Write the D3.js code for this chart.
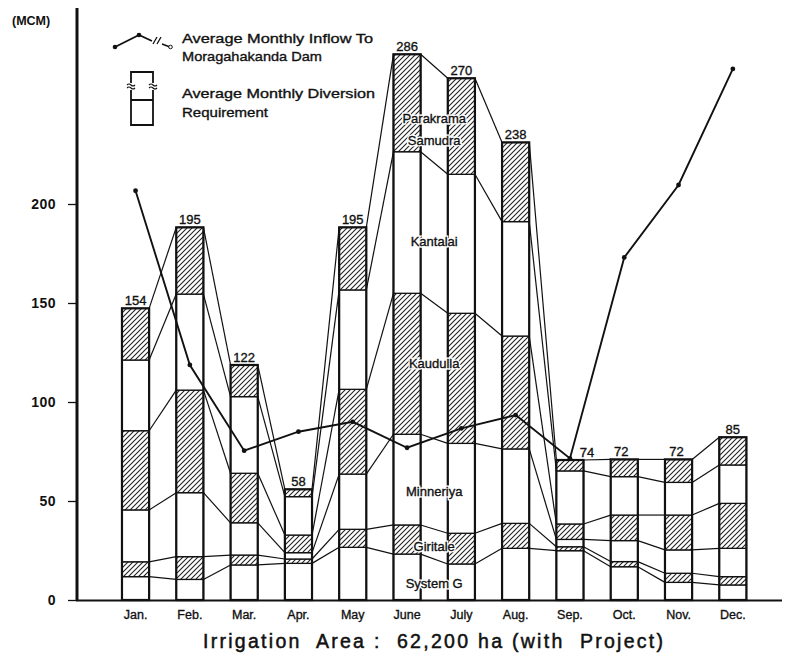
<!DOCTYPE html>
<html>
<head>
<meta charset="utf-8">
<script src="https://cdn.jsdelivr.net/npm/d3@7/dist/d3.min.js"></script>
<style>
  html, body { margin: 0; padding: 0; background: #fff; }
  svg { display: block; }
  text { font-family: "Liberation Sans", "DejaVu Sans", sans-serif; fill: #111; }
  .heavy { stroke: #111; stroke-width: 0.35px; }
</style>
</head>
<body>
<svg id="chart" width="786" height="672"></svg>
<script>
// ---------------- DATA ----------------
const months = ["Jan.", "Feb.", "Mar.", "Apr.", "May", "June", "July", "Aug.", "Sep.", "Oct.", "Nov.", "Dec."];
const systemG   = [11.8, 10.4, 17.7, 18.5, 26.6, 23.2, 18.2, 26.1, 24.9, 16.8, 8.9, 7.6];
const giritale  = [7.5, 11.5, 5.0, 2.2, 9.1, 14.7, 15.5, 12.6, 2.0, 2.6, 4.6, 4.2];
const minneriya = [26.2, 32.3, 16.3, 3.2, 27.9, 45.8, 45.4, 37.6, 3.7, 10.6, 11.8, 14.3];
const kaudulla  = [40.0, 51.8, 25.0, 8.9, 42.8, 71.2, 65.7, 57.0, 7.8, 12.9, 17.6, 22.7];
const kantalai  = [35.7, 48.5, 38.7, 19.4, 50.2, 71.5, 70.2, 57.8, 26.8, 19.4, 16.5, 19.4];
const parakrama = [26.1, 33.7, 16.0, 3.7, 31.6, 49.2, 48.5, 40.0, 5.5, 8.7, 11.6, 14.0];
const totalLabels = [154, 195, 122, 58, 195, 286, 270, 238, 74, 72, 72, 85];
const inflow = [206.7, 118.7, 75.4, 85.0, 90.0, 76.9, 86.7, 93.4, 71.5, 173.0, 209.6, 268.2];
const yTicks = [0, 50, 100, 150, 200];
const seriesNames = ["System G", "Giritale", "Minneriya", "Kaudulla", "Kantalai", "Parakrama Samudra"];
const seriesHatched = [false, true, false, true, false, true];
// label anchor values (MCM) for the names written inside the June/July bars
const nameLabelLines = [["System G"], ["Giritale"], ["Minneriya"], ["Kaudulla"], ["Kantalai"], ["Parakrama", "Samudra"]];
const nameLabelValues = [8.4, 27.0, 54.7, 119.7, 180.9, 243.3];

// ---------------- SETUP ----------------
const svg = d3.select("#chart");
const defs = svg.append("defs");
const pat = defs.append("pattern")
  .attr("id", "hatch").attr("patternUnits", "userSpaceOnUse")
  .attr("width", 5).attr("height", 5);
pat.append("rect").attr("width", 5).attr("height", 5).attr("fill", "#fff");
pat.append("path").attr("d", "M-1,1 l2,-2 M0,5 l5,-5 M4,6 l2,-2")
  .attr("stroke", "#222").attr("stroke-width", 1.1);

const x = d3.scaleBand().domain(months).range([108.4, 760]).paddingInner(0.5).paddingOuter(0.25);
const y = d3.scaleLinear().domain([0, 200]).range([600, 204]);
const bw = x.bandwidth();

const seriesData = [systemG, giritale, minneriya, kaudulla, kantalai, parakrama];
const table = months.map((m, i) => {
  const o = { month: m };
  seriesNames.forEach((s, k) => o[s] = seriesData[k][i]);
  return o;
});
const stack = d3.stack().keys(seriesNames)(table);

// ---------------- AXES ----------------
const yAxis = d3.axisLeft(y).tickValues(yTicks).tickSize(9).tickFormat(d3.format("d"));
const gy = svg.append("g").attr("transform", "translate(77,0)").call(yAxis);
gy.select(".domain").remove();
gy.selectAll(".tick line").attr("stroke", "#111").attr("stroke-width", 1.3);
gy.selectAll(".tick text").attr("x", -21).attr("font-size", 14).attr("font-weight", "bold")
  .attr("letter-spacing", 0.5).style("font-family", "\"Liberation Sans\", sans-serif").attr("fill", "#111");
svg.append("line").attr("x1", 77).attr("x2", 77).attr("y1", 8).attr("y2", 601)
  .attr("stroke", "#111").attr("stroke-width", 3);
svg.append("line").attr("x1", 76).attr("x2", 782).attr("y1", y(0) + 0.5).attr("y2", y(0) + 0.5)
  .attr("stroke", "#111").attr("stroke-width", 2);

const xAxis = d3.axisBottom(x).tickSize(0).tickPadding(10);
const gx = svg.append("g").attr("transform", `translate(0,${y(0)})`).call(xAxis);
gx.select(".domain").remove();
gx.selectAll(".tick text").attr("font-size", 12.5).attr("fill", "#111").attr("class", "heavy");

svg.append("text").attr("x", 12).attr("y", 25).attr("font-size", 12.5).attr("font-weight", "bold")
  .text("(MCM)");

// ---------------- CONNECTING LINES ----------------
const conn = svg.append("g");
stack.forEach(layer => {
  for (let i = 0; i < months.length - 1; i++) {
    conn.append("line")
      .attr("x1", x(months[i]) + bw).attr("y1", y(layer[i][1]))
      .attr("x2", x(months[i + 1])).attr("y2", y(layer[i + 1][1]))
      .attr("stroke", "#111").attr("stroke-width", 1.2);
  }
});

// ---------------- BARS ----------------
const bars = svg.append("g");
stack.forEach((layer, k) => {
  bars.selectAll(null).data(layer).enter().append("rect")
    .attr("x", (d, i) => x(months[i]))
    .attr("y", d => y(d[1]))
    .attr("width", bw)
    .attr("height", d => y(d[0]) - y(d[1]))
    .attr("fill", seriesHatched[k] ? "url(#hatch)" : "#fff")
    .attr("stroke", "#111").attr("stroke-width", 1.3);
});
const topLayer = stack[stack.length - 1];
bars.selectAll(null).data(topLayer).enter().append("rect")
  .attr("x", (d, i) => x(months[i])).attr("y", d => y(d[1]))
  .attr("width", bw).attr("height", d => y(0) - y(d[1]))
  .attr("fill", "none").attr("stroke", "#111").attr("stroke-width", 2.2);

// total labels
const labelDx = [0, 0, 0, 0, 0, 0, 0, 0, 17, -3, -2, 0];
svg.append("g").selectAll("text").data(topLayer).enter().append("text")
  .attr("class", "heavy")
  .attr("x", (d, i) => x(months[i]) + bw / 2 + labelDx[i])
  .attr("y", d => y(d[1]) - 3)
  .attr("text-anchor", "middle").attr("font-size", 13)
  .text((d, i) => totalLabels[i]);

// ---------------- INFLOW LINE ----------------
const line = d3.line().x((d, i) => x(months[i]) + bw / 2).y(d => y(d));
svg.append("path").datum(inflow).attr("d", line)
  .attr("fill", "none").attr("stroke", "#111").attr("stroke-width", 1.9);
svg.append("g").selectAll("circle").data(inflow).enter().append("circle")
  .attr("cx", (d, i) => x(months[i]) + bw / 2).attr("cy", d => y(d)).attr("r", 2.4)
  .attr("fill", "#111");

// ---------------- NAME LABELS ----------------
const nameX = (x("June") + bw + x("July")) / 2;
const names = svg.append("g");
nameLabelLines.forEach((lines, k) => {
  lines.forEach((t, j) => {
    const ty = y(nameLabelValues[k]) + j * 22;
    names.append("text")
      .attr("x", nameX).attr("y", ty).attr("dy", "0.35em")
      .attr("text-anchor", "middle").attr("font-size", 13)
      .attr("fill", "#fff").attr("stroke", "#fff").attr("stroke-width", 3)
      .text(t);
    names.append("text")
      .attr("class", "heavy")
      .attr("x", nameX).attr("y", ty).attr("dy", "0.35em")
      .attr("text-anchor", "middle").attr("font-size", 13)
      .text(t);
  });
});

// ---------------- LEGEND ----------------
const lg = svg.append("g");
lg.append("path").attr("d", "M115,47 L139,35 L152,41").attr("fill", "none")
  .attr("stroke", "#111").attr("stroke-width", 1.8);
lg.append("path").attr("d", "M162,44 L170,47").attr("fill", "none")
  .attr("stroke", "#111").attr("stroke-width", 1.5);
lg.append("path").attr("d", "M153,44 L157,37 M157,44 L161,37").attr("fill", "none")
  .attr("stroke", "#111").attr("stroke-width", 1.3);
lg.append("circle").attr("cx", 115).attr("cy", 47).attr("r", 2.3).attr("fill", "#111");
lg.append("circle").attr("cx", 139).attr("cy", 35).attr("r", 2.3).attr("fill", "#111");
lg.append("circle").attr("cx", 170.5).attr("cy", 47).attr("r", 1.8).attr("fill", "#fff").attr("stroke", "#111");
// box symbol
lg.append("path").attr("d",
  "M131,83 L131,72 L153,72 L153,83 M131,90 L131,125 L153,125 L153,90 M131,100 L153,100")
  .attr("fill", "none").attr("stroke", "#111").attr("stroke-width", 1.8);
lg.append("path").attr("d",
  "M127,85 q2,-2 4,0 t4,0 M127,88 q2,-2 4,0 t4,0 M149,85 q2,-2 4,0 t4,0 M149,88 q2,-2 4,0 t4,0")
  .attr("fill", "none").attr("stroke", "#111").attr("stroke-width", 1.1);

const legendText = [
  ["Average Monthly Inflow To", 182, 43, 191],
  ["Moragahakanda Dam", 182, 61, 140],
  ["Average Monthly Diversion", 182, 98, 193],
  ["Requirement", 182, 117, 86]
];
legendText.forEach(([t, tx, ty, tl]) => {
  lg.append("text").attr("class", "heavy").attr("x", tx).attr("y", ty).attr("font-size", 13.5)
    .attr("textLength", tl).attr("lengthAdjust", "spacingAndGlyphs").text(t);
});

// ---------------- TITLE ----------------
svg.append("text").attr("class", "heavy").attr("x", 203).attr("y", 648).attr("font-size", 19.5)
  .attr("textLength", 460).attr("lengthAdjust", "spacing")
  .attr("xml:space", "preserve")
  .style("stroke-width", "0.5px")
  .text("Irrigation  Area :  62,200 ha (with  Project)");
</script>
</body>
</html>
